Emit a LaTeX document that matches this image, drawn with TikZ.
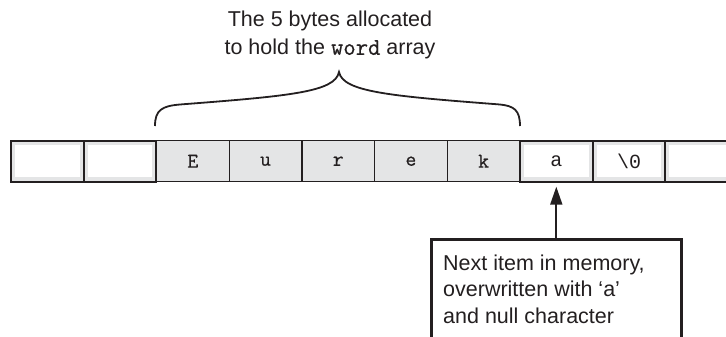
\documentclass[tikz,border=0pt]{standalone}
\usepackage{fontspec}
\setmainfont{Liberation Sans}
\newfontfamily\cellsans{Liberation Mono}
\newfontfamily\codefont{Latin Modern Mono}[FakeBold=0.7]
\usetikzlibrary{arrows.meta}

\definecolor{cellgray}{HTML}{E4E5E6}
\definecolor{ink}{HTML}{231F20}

\begin{document}
\begin{tikzpicture}[x=1pt,y=-1pt,
  cell/.style={draw=ink, line width=1.3pt, fill=cellgray,
    minimum width=72.7pt, minimum height=41pt, inner sep=0pt,
    text=ink, font=\codefont\fontsize{21}{21}\selectfont},
  blankcell/.style={cell, line width=2pt,
    font=\cellsans\fontsize{20}{20}\selectfont,
    path picture={\fill[white]
      ([xshift=4pt,yshift=5pt]path picture bounding box.south west) rectangle
      ([xshift=-4pt,yshift=-4pt]path picture bounding box.north east);}},
  labeltext/.style={inner sep=0pt, text=ink, font=\fontsize{21.5}{28}\selectfont},
  notebox/.style={draw=ink, line width=3pt, minimum width=250pt,
    minimum height=130pt, inner sep=0pt},
  pointer/.style={draw=ink, line width=1.8pt,
    -{Triangle[length=18pt,width=12pt]}, shorten >=4pt},
  bracestyle/.style={draw=ink, line width=1.8pt}]

\useasboundingbox (0,0) rectangle (726,337);
\clip (0,0) rectangle (726,337);

% memory cells holding the characters of the word array
\foreach \i/\t in {2/E,3/u,4/r,5/e,6/k}
  \node[cell] (c\i) at ({47.4+72.7*\i},161.2) {\t};

% neighbouring memory cells
\foreach \i/\t in {0/,1/,7/a,8/\textbackslash0,9/}
  \node[blankcell] (c\i) at ({47.4+72.7*\i},161.2) {\t};

% curly brace over the five array bytes
\path[bracestyle] (155,126)
  .. controls (155,110) and (162,106) .. (180,104.5)
  .. controls (290,96) and (335,92) .. (339,72)
  .. controls (343,92) and (390,96) .. (500,104.5)
  .. controls (514,106) and (520,110) .. (520,126);

\node[labeltext, align=center, anchor=north] (caption) at (330,11)
  {The 5 bytes allocated\\to hold the {\codefont\fontsize{24}{28}\selectfont word} array};

% annotation box and its pointer
\node[notebox, anchor=north west] (note) at (430,238) {};
\node[labeltext, align=left, anchor=north west,
  font=\fontsize{21.5}{26.5}\selectfont] (notetext)
  at ([xshift=13pt,yshift=-16.3pt]note.north west)
  {Next item in memory,\\overwritten with ‘a’\\and null character};

\draw[pointer] (c7.south |- note.north) -- (c7.south);
\end{tikzpicture}
\end{document}
